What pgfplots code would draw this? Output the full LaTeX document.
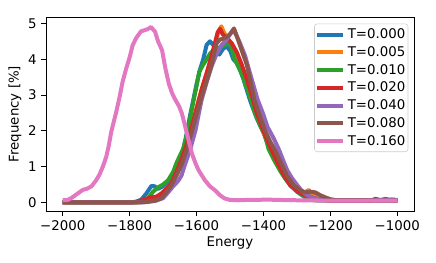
\documentclass[border=0pt]{standalone}
\usepackage{fontspec}
\setmainfont{DejaVu Sans}
\usepackage{pgfplots}
\pgfplotsset{compat=1.18}
\definecolor{c0}{HTML}{1F77B4}
\definecolor{c1}{HTML}{FF7F0E}
\definecolor{c2}{HTML}{2CA02C}
\definecolor{c3}{HTML}{D62728}
\definecolor{c4}{HTML}{9467BD}
\definecolor{c5}{HTML}{8C564B}
\definecolor{c6}{HTML}{E377C2}
\begin{document}
\begin{tikzpicture}
\path[use as bounding box] (-34.5pt,-38.25pt) rectangle (292.5pt,158.25pt);
\begin{axis}[
  scale only axis, width=276pt, height=145.5pt,
  xmin=-2050, xmax=-950, ymin=-0.24, ymax=5.18,
  xtick={-2000,-1800,-1600,-1400,-1200,-1000},
  xticklabels={−2000,−1800,−1600,−1400,−1200,−1000},
  ytick={0,1,2,3,4,5},
  yticklabels={0,1,2,3,4,5},
  tick align=outside, major tick length=3.6pt,
  xtick pos=bottom, ytick pos=left,
  axis line style={line width=0.6pt},
  every tick/.style={black, line width=0.6pt},
  tick label style={font=\fontsize{10}{12}\selectfont},
  label style={font=\fontsize{10}{12}\selectfont},
  xlabel={Energy}, ylabel={Frequency [\%]},
  xlabel style={yshift=2pt},
  ylabel style={yshift=-2pt},
  legend cell align=left,
  legend style={at={(1,1)}, anchor=north east, xshift=-4.3pt, yshift=-5pt,
    draw=black!20, rounded corners=2pt, fill=white, fill opacity=0.8, text opacity=1,
    font=\fontsize{10}{12}\selectfont, row sep=0.4pt, inner xsep=0pt, inner ysep=1.5pt,
    nodes={inner xsep=2pt, inner ysep=2pt}},
  legend image code/.code={\draw[#1] (0pt,0pt) -- (20pt,0pt);},
  every axis plot/.append style={line width=3pt, line join=round},
]
\addplot[c0] coordinates {(-2000,0) (-1800,0) (-1780,0.02) (-1765,0.08) (-1750,0.25) (-1735,0.46) (-1725,0.45) (-1715,0.38) (-1700,0.45) (-1690,0.55) (-1680,0.65) (-1665,0.85) (-1650,1.15) (-1640,1.45) (-1630,1.9) (-1620,2.4) (-1610,2.85) (-1600,3.3) (-1590,3.7) (-1580,4.0) (-1570,4.4) (-1560,4.5) (-1550,4.4) (-1540,4.2) (-1532,4.13) (-1520,4.3) (-1510,4.35) (-1500,4.25) (-1490,4.0) (-1480,3.9) (-1470,3.7) (-1460,3.45) (-1450,3.15) (-1440,2.85) (-1420,2.35) (-1400,1.95) (-1390,1.7) (-1380,1.5) (-1360,1.1) (-1340,0.75) (-1320,0.48) (-1300,0.3) (-1280,0.17) (-1260,0.1) (-1240,0.06) (-1200,0.05) (-1100,0.05) (-1050,0.06) (-1010,0.08) (-1000,0.06)};
\addlegendentry{T=0.000}
\addplot[c1] coordinates {(-2000,0) (-1780,0) (-1760,0.03) (-1740,0.08) (-1720,0.15) (-1700,0.25) (-1680,0.45) (-1660,0.8) (-1640,1.25) (-1620,1.95) (-1600,2.65) (-1580,3.3) (-1560,3.9) (-1545,4.4) (-1535,4.75) (-1526,4.92) (-1518,4.75) (-1505,4.55) (-1490,4.3) (-1475,3.95) (-1460,3.6) (-1440,3.0) (-1420,2.45) (-1400,1.95) (-1380,1.55) (-1360,1.15) (-1340,0.8) (-1320,0.5) (-1300,0.32) (-1280,0.25) (-1265,0.35) (-1255,0.25) (-1240,0.12) (-1220,0.07) (-1200,0.05) (-1000,0.05)};
\addlegendentry{T=0.005}
\addplot[c2] coordinates {(-2000,0) (-1780,0) (-1760,0.04) (-1745,0.12) (-1730,0.3) (-1715,0.42) (-1700,0.5) (-1685,0.62) (-1670,0.85) (-1660,1.1) (-1650,1.3) (-1640,1.5) (-1630,1.85) (-1620,2.3) (-1610,2.8) (-1600,3.25) (-1592,3.65) (-1580,3.85) (-1570,4.0) (-1560,4.15) (-1550,4.25) (-1540,4.3) (-1530,4.33) (-1520,4.38) (-1510,4.42) (-1500,4.45) (-1495,4.3) (-1488,4.05) (-1478,3.85) (-1465,3.6) (-1450,3.2) (-1437,2.86) (-1425,2.5) (-1410,2.15) (-1397,1.93) (-1385,1.5) (-1368,1.18) (-1348,0.85) (-1330,0.6) (-1310,0.44) (-1290,0.25) (-1270,0.11) (-1250,0.06) (-1000,0.05)};
\addlegendentry{T=0.010}
\addplot[c3] coordinates {(-2000,0) (-1790,0) (-1770,0.04) (-1750,0.1) (-1735,0.15) (-1720,0.16) (-1705,0.25) (-1690,0.38) (-1675,0.55) (-1660,0.85) (-1645,1.2) (-1630,1.6) (-1615,2.1) (-1600,2.6) (-1585,3.15) (-1570,3.6) (-1555,4.1) (-1545,4.45) (-1537,4.75) (-1530,4.85) (-1522,4.7) (-1510,4.6) (-1495,4.45) (-1480,4.2) (-1465,3.85) (-1450,3.45) (-1435,3.0) (-1420,2.5) (-1400,2.0) (-1380,1.55) (-1360,1.15) (-1340,0.78) (-1320,0.48) (-1300,0.32) (-1280,0.22) (-1260,0.15) (-1240,0.1) (-1220,0.07) (-1200,0.05) (-1080,0.05) (-1065,0.1) (-1050,0.06) (-1035,0.1) (-1020,0.05) (-1000,0.05)};
\addlegendentry{T=0.020}
\addplot[c4] coordinates {(-2000,0) (-1760,0) (-1740,0.02) (-1720,0.05) (-1700,0.12) (-1685,0.28) (-1670,0.45) (-1655,0.6) (-1645,0.75) (-1635,1.05) (-1620,1.45) (-1603,2.02) (-1595,2.4) (-1585,2.86) (-1570,3.35) (-1555,3.8) (-1540,4.15) (-1525,4.4) (-1510,4.55) (-1500,4.7) (-1490,4.82) (-1480,4.65) (-1470,4.45) (-1455,4.1) (-1440,3.6) (-1417,2.86) (-1400,2.45) (-1388,2.11) (-1370,1.8) (-1353,1.46) (-1340,1.15) (-1329,0.9) (-1315,0.68) (-1299,0.48) (-1285,0.32) (-1269,0.2) (-1255,0.14) (-1240,0.1) (-1220,0.07) (-1200,0.06) (-1100,0.06) (-1020,0.08) (-1000,0.06)};
\addlegendentry{T=0.040}
\addplot[c5] coordinates {(-2000,0) (-1770,0) (-1745,0.02) (-1725,0.05) (-1705,0.12) (-1690,0.28) (-1675,0.48) (-1660,0.75) (-1645,1.05) (-1630,1.45) (-1615,1.95) (-1600,2.45) (-1585,2.95) (-1570,3.4) (-1555,3.85) (-1540,4.45) (-1530,4.55) (-1520,4.58) (-1510,4.62) (-1500,4.7) (-1488,4.86) (-1478,4.6) (-1465,4.25) (-1450,3.85) (-1438,3.35) (-1427,2.86) (-1410,2.4) (-1395,2.0) (-1380,1.7) (-1365,1.45) (-1350,1.15) (-1330,0.75) (-1310,0.48) (-1290,0.34) (-1275,0.28) (-1260,0.3) (-1245,0.28) (-1230,0.2) (-1215,0.14) (-1200,0.09) (-1180,0.06) (-1000,0.05)};
\addlegendentry{T=0.080}
\addplot[c6] coordinates {(-2000,0.06) (-1985,0.07) (-1973,0.13) (-1955,0.25) (-1940,0.35) (-1928,0.38) (-1914,0.45) (-1900,0.62) (-1890,0.78) (-1880,1.0) (-1870,1.27) (-1862,1.6) (-1855,1.97) (-1840,2.53) (-1830,2.95) (-1821,3.37) (-1810,3.75) (-1801,4.02) (-1791,4.39) (-1780,4.6) (-1766,4.78) (-1746,4.84) (-1736,4.9) (-1724,4.77) (-1715,4.5) (-1703,4.25) (-1693,3.74) (-1683,3.32) (-1673,3.05) (-1663,2.86) (-1653,2.7) (-1644,2.49) (-1636,2.2) (-1629,1.93) (-1614,1.37) (-1603,1.09) (-1594,0.9) (-1575,0.62) (-1560,0.45) (-1545,0.34) (-1530,0.2) (-1516,0.11) (-1500,0.07) (-1476,0.06) (-1447,0.07) (-1420,0.07) (-1390,0.08) (-1360,0.07) (-1300,0.06) (-1200,0.05) (-1000,0.05)};
\addlegendentry{T=0.160}
\end{axis}
\end{tikzpicture}
\end{document}
